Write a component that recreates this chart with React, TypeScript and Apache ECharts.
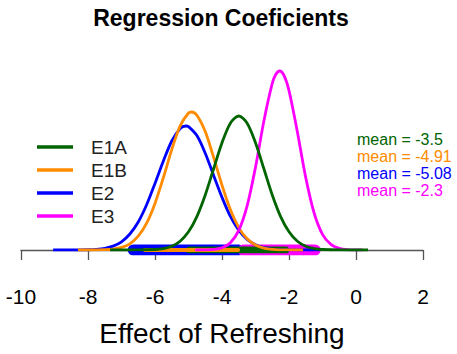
import React, { useEffect, useRef } from 'react';
import * as echarts from 'echarts';

const categories = ['E1A', 'E1B', 'E2', 'E3'];
const colors = ['#006400', '#FF8C00', '#0000FF', '#FF00FF'];
const means = [-3.5, -4.91, -5.08, -2.3];
const hdiLow = [-4.97, -6.3, -6.65, -3.37];
const hdiHigh = [-2.1, -3.52, -3.5, -1.22];
const hdiWidth = [7, 4, 11, 11];
const xTicks = [-10, -8, -6, -4, -2, 0, 2];

const e1aX = [-7.34, -6.5, -6.0, -5.75, -5.5, -5.25, -5.0, -4.75, -4.5, -4.25, -4.0, -3.75, -3.5, -3.25, -3.0, -2.75, -2.5, -2.25, -2.0, -1.75, -1.5, -1.25, -1.0, -0.5, 0.36];
const e1aY = [0, 0.0002, 0.0026, 0.0074, 0.019, 0.044, 0.091, 0.167, 0.275, 0.406, 0.536, 0.634, 0.67, 0.634, 0.536, 0.406, 0.275, 0.167, 0.091, 0.044, 0.019, 0.0074, 0.0026, 0.0002, 0];

const e1bX = [-8.3, -8.0, -7.5, -7.25, -7.0, -6.75, -6.5, -6.25, -6.0, -5.75, -5.5, -5.25, -5.0, -4.91, -4.75, -4.5, -4.25, -4.0, -3.75, -3.5, -3.25, -3.0, -2.75, -2.5, -2.0, -1.58];
const e1bY = [0, 0.0001, 0.0015, 0.0046, 0.0128, 0.031, 0.069, 0.134, 0.233, 0.362, 0.502, 0.621, 0.685, 0.69, 0.674, 0.592, 0.463, 0.324, 0.202, 0.112, 0.056, 0.025, 0.0097, 0.0034, 0.0003, 0];

const e2X = [-9.04, -8.5, -8.0, -7.75, -7.5, -7.25, -7.0, -6.75, -6.5, -6.25, -6.0, -5.75, -5.5, -5.25, -5.08, -5.0, -4.75, -4.5, -4.25, -4.0, -3.75, -3.5, -3.25, -3.0, -2.75, -2.5, -2.0, -1.5, -1.07];
const e2Y = [0, 0.0001, 0.0012, 0.0033, 0.0083, 0.0193, 0.041, 0.08, 0.14, 0.226, 0.333, 0.445, 0.545, 0.607, 0.62, 0.617, 0.572, 0.484, 0.373, 0.263, 0.168, 0.099, 0.053, 0.026, 0.0114, 0.0046, 0.0006, 0, 0];

const e3X = [-4.8, -4.5, -4.25, -4.0, -3.75, -3.5, -3.25, -3.0, -2.75, -2.5, -2.4, -2.28, -2.15, -2.0, -1.75, -1.5, -1.25, -1.0, -0.75, -0.5, -0.25, 0.2];
const e3Y = [0, 0.0006, 0.0028, 0.011, 0.036, 0.098, 0.221, 0.414, 0.645, 0.833, 0.876, 0.895, 0.873, 0.797, 0.59, 0.362, 0.185, 0.078, 0.028, 0.008, 0.002, 0];

const curveX = [e1aX, e1bX, e2X, e3X];
const curveY = [e1aY, e1bY, e2Y, e3Y];

const FONT = '"Liberation Sans", Arial, Helvetica, sans-serif';

export default function App() {
  const ref = useRef<HTMLDivElement>(null);
  useEffect(() => {
    const chart = echarts.init(ref.current!, null, { renderer: 'svg' });
    const curveOrder = [2, 1, 3, 0];
    const barOrder = [2, 3, 0, 1];
    const series: any[] = [];
    barOrder.forEach((i) => {
      series.push({
        name: categories[i] + ' interval',
        type: 'line',
        z: 2,
        silent: true,
        showSymbol: false,
        data: [[hdiLow[i], 0], [hdiHigh[i], 0]],
        lineStyle: { color: colors[i], width: hdiWidth[i], cap: 'round' },
        itemStyle: { color: colors[i] },
      });
    });
    curveOrder.forEach((i) => {
      series.push({
        name: categories[i],
        type: 'line',
        z: 3,
        showSymbol: false,
        smooth: 0.3,
        data: curveX[i].map((x, k) => [x, curveY[i][k]]),
        lineStyle: { color: colors[i], width: 2.8 },
        itemStyle: { color: colors[i] },
      });
    });
    const meanTexts = categories.map((c, i) => ({
      type: 'text',
      x: 357,
      y: 139 + i * 17,
      style: {
        text: `mean = ${means[i]}`,
        fill: colors[i],
        font: `16px ${FONT}`,
        align: 'left',
        verticalAlign: 'middle',
      },
    }));
    chart.setOption({
      animation: false,
      backgroundColor: '#ffffff',
      grid: { left: 21, right: 34, top: 50, bottom: 104 },
      xAxis: {
        type: 'value',
        min: xTicks[0],
        max: xTicks[xTicks.length - 1],
        interval: 2,
        offset: 8,
        splitLine: { show: false },
        axisLine: { show: true, lineStyle: { color: '#555', width: 1.3 } },
        axisTick: { show: true, length: 10, lineStyle: { color: '#555', width: 1.3 } },
        axisLabel: { fontSize: 21, color: '#000', margin: 28, fontFamily: FONT },
        name: 'Effect of Refreshing',
        nameLocation: 'middle',
        nameGap: 61,
        nameTextStyle: { fontSize: 28, color: '#000', fontFamily: FONT },
      },
      yAxis: { type: 'value', min: 0, max: 1, show: false },
      legend: {
        data: categories,
        orient: 'vertical',
        left: 37,
        top: 137.5,
        padding: 0,
        icon: 'rect',
        itemWidth: 36,
        itemHeight: 3.4,
        itemGap: 4,
        textStyle: { fontSize: 19, lineHeight: 19, color: '#222', fontFamily: FONT, padding: [0, 0, 0, 13] },
      },
      graphic: [
        {
          type: 'text',
          x: 221,
          y: 18,
          style: {
            text: 'Regression Coeficients',
            fill: '#000',
            font: `bold 23px ${FONT}`,
            align: 'center',
            verticalAlign: 'middle',
          },
        },
        ...meanTexts,
      ],
      series,
    });
    return () => chart.dispose();
  }, []);
  return <div ref={ref} style={{ position: 'absolute', left: 0, top: 0, width: 457, height: 354 }} />;
}
